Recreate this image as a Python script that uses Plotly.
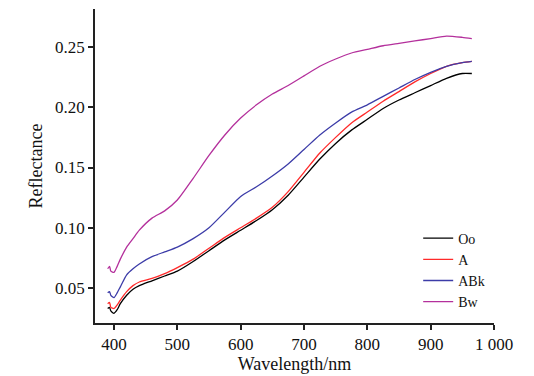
import plotly.graph_objects as go

wl = [390, 393, 395, 400, 405, 410, 420, 430, 440, 460, 480, 500, 525, 550, 575, 600,
      625, 650, 675, 700, 725, 750, 775, 800, 825, 850, 875, 900, 925, 950, 965]

oo = [0.033, 0.034, 0.031, 0.029, 0.032, 0.037, 0.044, 0.049, 0.052, 0.056, 0.060, 0.064,
      0.072, 0.081, 0.090, 0.098, 0.106, 0.115, 0.127, 0.142, 0.157, 0.170, 0.181, 0.190,
      0.199, 0.206, 0.212, 0.218, 0.224, 0.228, 0.228]
a = [0.037, 0.038, 0.034, 0.033, 0.036, 0.040, 0.047, 0.052, 0.055, 0.058, 0.062, 0.067,
     0.074, 0.083, 0.092, 0.100, 0.108, 0.117, 0.130, 0.146, 0.162, 0.175, 0.187, 0.196,
     0.205, 0.213, 0.221, 0.228, 0.234, 0.237, 0.238]
abk = [0.046, 0.047, 0.044, 0.042, 0.046, 0.051, 0.061, 0.066, 0.070, 0.076, 0.080, 0.084,
       0.091, 0.100, 0.113, 0.126, 0.134, 0.143, 0.153, 0.165, 0.177, 0.187, 0.196, 0.202,
       0.209, 0.216, 0.223, 0.229, 0.234, 0.237, 0.238]
bw = [0.066, 0.068, 0.064, 0.063, 0.068, 0.074, 0.084, 0.091, 0.098, 0.108, 0.114, 0.123,
      0.141, 0.160, 0.177, 0.191, 0.202, 0.211, 0.218, 0.226, 0.234, 0.240, 0.245, 0.248,
      0.251, 0.253, 0.255, 0.257, 0.259, 0.258, 0.257]

series_names = ["Oo", "A", "ABk", "Bw"]
series_vals = [oo, a, abk, bw]
series_colors = ["#000000", "#ff2a2a", "#3c3ca8", "#b4309c"]

x_tickvals = [400, 500, 600, 700, 800, 900, 1000]
x_ticktext = ["400", "500", "600", "700", "800", "900", "1 000"]
y_tickvals = [0.05, 0.10, 0.15, 0.20, 0.25]
y_ticktext = ["0.05", "0.10", "0.15", "0.20", "0.25"]

fig = go.Figure()
for name, vals, col in zip(series_names, series_vals, series_colors):
    fig.add_trace(go.Scatter(x=wl, y=vals, name=name, mode="lines",
                             line=dict(color=col, width=1.3, shape="spline", smoothing=0.6)))

font_family = "Liberation Serif, Times New Roman, serif"
fig.update_layout(
    width=526, height=368,
    margin=dict(l=87, r=40, t=1, b=53, autoexpand=False),
    paper_bgcolor="white", plot_bgcolor="white",
    font=dict(family=font_family, size=17, color="#111"),
    showlegend=True,
    legend=dict(x=0.81, y=0.32, xanchor="left", yanchor="top",
                font=dict(family=font_family, size=14, color="#111"),
                bgcolor="rgba(0,0,0,0)", tracegroupgap=0, itemwidth=30),
)
fig.update_xaxes(range=[370, 1000], tickvals=x_tickvals, ticktext=x_ticktext,
                 showline=True, linecolor="#222", linewidth=1.5, ticks="outside",
                 ticklen=5, tickcolor="#222", tickwidth=1.5, showgrid=False, zeroline=False,
                 automargin=False,
                 title=dict(text="Wavelength/nm", standoff=0, font=dict(size=18)),
                 tickfont=dict(size=17))
fig.update_yaxes(range=[0.021, 0.2815], tickvals=y_tickvals, ticktext=y_ticktext,
                 showline=True, linecolor="#222", linewidth=1.5, ticks="outside",
                 ticklen=5, tickcolor="#222", tickwidth=1.5, showgrid=False, zeroline=False,
                 automargin=False,
                 title=dict(text="Reflectance", standoff=8, font=dict(size=18)),
                 tickfont=dict(size=17))

fig.write_html("out.html")
